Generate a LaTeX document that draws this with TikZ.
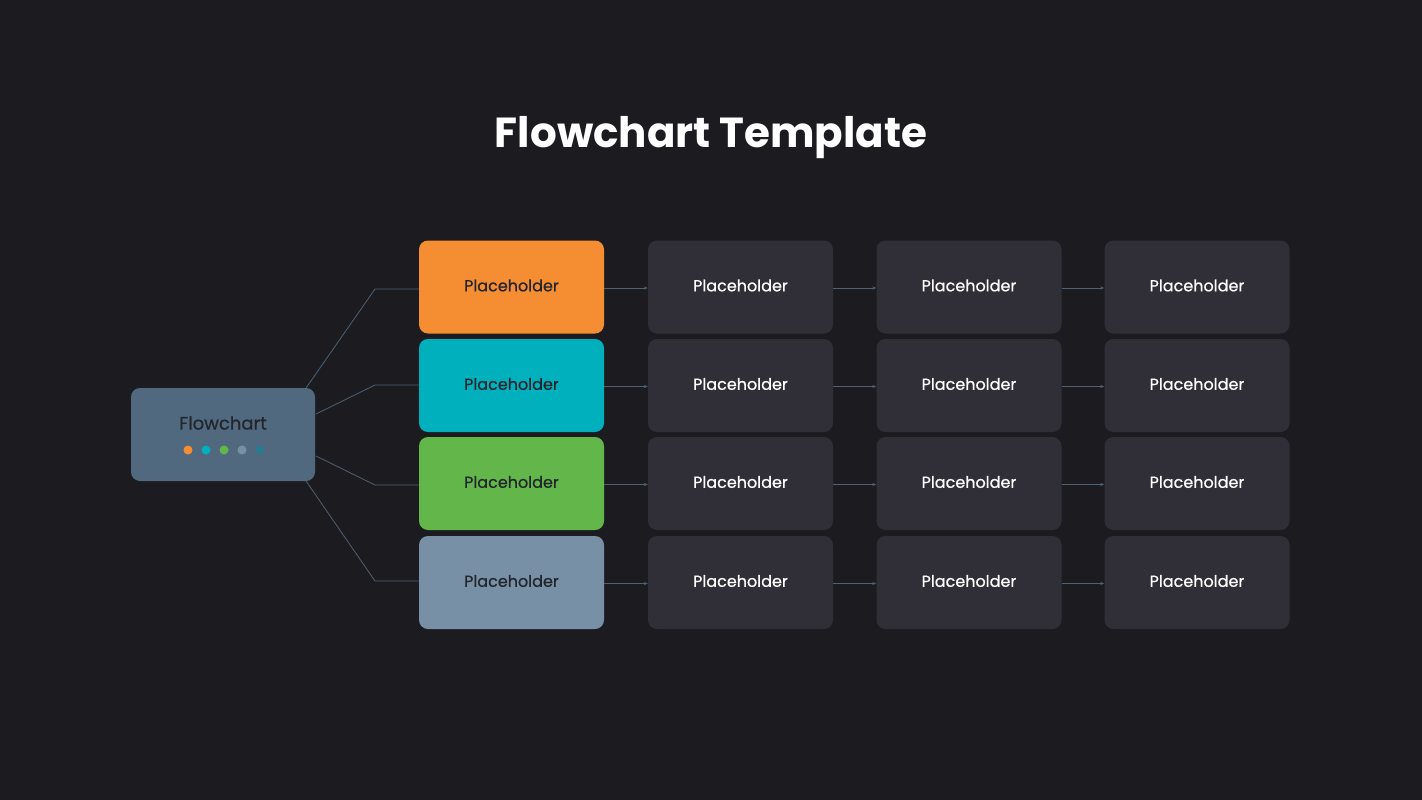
\documentclass[tikz,border=0pt]{standalone}
\usepackage{fontspec}
\setmainfont{Poppins}
\newfontfamily\medfont[FakeBold=0.6]{Poppins}
\usetikzlibrary{arrows.meta}
\definecolor{bg}{HTML}{1C1C20}
\definecolor{dbox}{HTML}{302F37}
\definecolor{c1}{HTML}{F58D33}
\definecolor{c2}{HTML}{00B1BD}
\definecolor{c3}{HTML}{63B74A}
\definecolor{c4}{HTML}{7790A6}
\definecolor{c5}{HTML}{2C7A8F}
\definecolor{hub}{HTML}{51697E}
\definecolor{ln}{HTML}{4E6073}
\definecolor{dtxt}{HTML}{22262C}
\begin{document}
\begin{tikzpicture}[x=1pt,y=-1pt,
  box/.style={rounded corners=9pt,minimum width=185pt,minimum height=93pt,inner sep=0pt},
  cbox/.style={box},
  gbox/.style={box,fill=dbox},
  lbl/.style={font=\medfont\fontsize{16}{18}\selectfont},
  con/.style={draw=ln,line width=0.8pt},
  arr/.style={con,-{Stealth[length=4pt,width=3pt]}}]
\fill[bg] (0,0) rectangle (1422,800);
\useasboundingbox (0,0) rectangle (1422,800);
\node[font=\bfseries\fontsize{42}{46}\selectfont,text=white] (title) at (711,138) {Flowchart Template};
\node[box,fill=hub,minimum width=184pt,minimum height=93pt] (hub) at (223,434.5) {};
\node[text=dtxt,font=\medfont\fontsize{18}{20}\selectfont] (hubt) at (223,423) {Flowchart};
\foreach \c [count=\i] in {c1,c2,c3,c4,c5}
  \fill[\c] ({170+18*\i},450) circle (4.5pt);
\foreach \r/\y/\c in {1/287/c1,2/385.5/c2,3/483.5/c3,4/582.5/c4}{
  \node[cbox,fill=\c] (a\r) at (511.5,\y) {};
  \node[lbl,text=dtxt] at (511.5,\y-1.5) {Placeholder};
  \node[gbox] (b\r) at (740.5,\y) {};
  \node[lbl,text=white] at (740.5,\y-1.5) {Placeholder};
  \node[gbox] (c\r) at (969,\y) {};
  \node[lbl,text=white] at (969,\y-1.5) {Placeholder};
  \node[gbox] (d\r) at (1197,\y) {};
  \node[lbl,text=white] at (1197,\y-1.5) {Placeholder};
  \draw[arr] (a\r.east|-0,\y+1) -- (b\r.west|-0,\y+1);
  \draw[arr] (b\r.east|-0,\y+1) -- (c\r.west|-0,\y+1);
  \draw[arr] (c\r.east|-0,\y+1) -- (d\r.west|-0,\y+1);
}
\coordinate (h1) at (306,388);
\coordinate (h2) at (316,414);
\coordinate (h3) at (316,456);
\coordinate (h4) at (306,481);
\draw[con] (h1) -- (375,289) -- (a1.west|-0,289);
\draw[con] (h2) -- (375,385) -- (a2.west|-0,385);
\draw[con] (h3) -- (375,485) -- (a3.west|-0,485);
\draw[con] (h4) -- (375,581) -- (a4.west|-0,581);
\end{tikzpicture}
\end{document}
